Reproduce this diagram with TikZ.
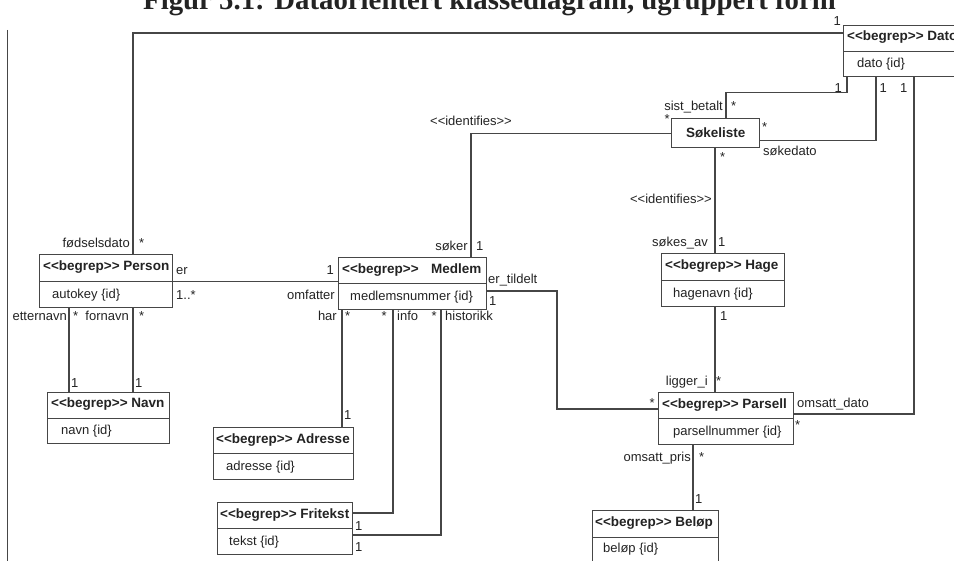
\documentclass[tikz,border=0pt]{standalone}
\usepackage{fontspec}
\usepackage{tikz}
\usetikzlibrary{calc}
\newfontfamily\umlfont{Liberation Sans}
\newfontfamily\titlefont{Liberation Serif}
\definecolor{linegray}{RGB}{70, 70, 70}
\definecolor{txtgray}{RGB}{35, 35, 35}
\newcommand{\stereo}{<{}<begrep>{}>}
\tikzset{
    classbox/.style={draw=linegray, line width=1.3pt, fill=white, anchor=north west, inner sep=0pt, minimum height=52pt},
    headtxt/.style={anchor=west, inner sep=0pt, text=txtgray, font=\umlfont\bfseries\fontsize{13.5}{16}\selectfont},
    attrtxt/.style={anchor=west, inner sep=0pt, text=txtgray, font=\umlfont\fontsize{13}{15}\selectfont},
    lbl/.style={inner sep=0pt, text=txtgray, font=\umlfont\fontsize{13}{15}\selectfont},
    assoc/.style={draw=linegray, line width=1.2pt}
}

\begin{document}
\begin{tikzpicture}[x=1pt, y=-1pt]
                \useasboundingbox (0,0) rectangle (954,561);

                % --- Tittel (cut by the top edge) ---
                \node[anchor=base, inner sep=0pt, text=txtgray, font=\titlefont\bfseries\fontsize{28.8}{30}\selectfont] (title) at (489.5,9.5) {Figur 5.1: Dataorientert klassediagram, ugruppert form};
                \draw[linegray, line width=1pt] (7,30) -- (7,561); % page margin line

                % --- Klasser ---
                \node[classbox, minimum width=133pt, minimum height=53pt] (person) at (39,254) {};
                \draw[assoc] (person.west) -- (person.east);
                \node[headtxt] (personh) at ($(person.north west)+(4,13.5)$) {\stereo\ Person};
                \node[attrtxt] (persona) at ($(person.west)+(13,13.5)$) {autokey \{id\}};

                \node[classbox, minimum width=122pt, minimum height=51pt] (navn) at (47,392) {};
                \draw[assoc] (navn.west) -- (navn.east);
                \node[headtxt] (navnh) at ($(navn.north west)+(4,12.5)$) {\stereo\ Navn};
                \node[attrtxt] (navna) at ($(navn.west)+(14,12.5)$) {navn \{id\}};

                \node[classbox, minimum width=148pt] (medlem) at (338,257) {};
                \draw[assoc] (medlem.west) -- (medlem.east);
                \node[headtxt] (medlemh) at ($(medlem.north west)+(4,13)$) {\stereo\hspace{12.5pt}Medlem};
                \node[attrtxt] (medlema) at ($(medlem.west)+(12,13)$) {medlemsnummer \{id\}};

                \node[classbox, minimum width=140pt] (adresse) at (213,427) {};
                \draw[assoc] (adresse.west) -- (adresse.east);
                \node[headtxt] (adresseh) at ($(adresse.north west)+(3,13)$) {\stereo\ Adresse};
                \node[attrtxt] (adressea) at ($(adresse.west)+(13,13)$) {adresse \{id\}};

                \node[classbox, minimum width=135pt] (fritekst) at (217,502) {};
                \draw[assoc] (fritekst.west) -- (fritekst.east);
                \node[headtxt] (friteksth) at ($(fritekst.north west)+(3,13)$) {\stereo\ Fritekst};
                \node[attrtxt] (friteksta) at ($(fritekst.west)+(12,13)$) {tekst \{id\}};

                \node[classbox, minimum width=88pt, minimum height=29pt, font=\umlfont\bfseries\fontsize{13.5}{16}\selectfont, text=txtgray] (sokeliste) at (671,118) {Søkeliste};

                \node[classbox, minimum width=123pt, minimum height=53pt] (hage) at (661,253) {};
                \draw[assoc] (hage.west) -- (hage.east);
                \node[headtxt] (hageh) at ($(hage.north west)+(4,13.5)$) {\stereo\ Hage};
                \node[attrtxt] (hagea) at ($(hage.west)+(12,13.5)$) {hagenavn \{id\}};

                \node[classbox, minimum width=135pt] (parsell) at (658,392) {};
                \draw[assoc] (parsell.west) -- (parsell.east);
                \node[headtxt] (parsellh) at ($(parsell.north west)+(4,13)$) {\stereo\ Parsell};
                \node[attrtxt] (parsella) at ($(parsell.west)+(15,13)$) {parsellnummer \{id\}};

                \node[classbox, minimum width=126pt, minimum height=54pt] (belop) at (592,510) {};
                \draw[assoc] (belop.west) -- (belop.east);
                \node[headtxt] (beloph) at ($(belop.north west)+(3,13.5)$) {\stereo\ Beløp};
                \node[attrtxt] (belopa) at ($(belop.west)+(11,11)$) {beløp \{id\}};

                \node[classbox, minimum width=130pt, minimum height=51pt] (dato) at (843,25) {};
                \draw[assoc] (dato.west) -- (dato.east);
                \node[headtxt] (datoh) at ($(dato.north west)+(4,12.5)$) {\stereo\ Dato};
                \node[attrtxt] (datoa) at ($(dato.west)+(14,12.5)$) {dato \{id\}};

                % --- Assosiasjoner ---
                \draw[assoc] ($(person.north west)+(94,0)$) |- ($(dato.north west)+(0,8)$);
                \draw[assoc] ($(person.south west)+(30,0)$) -- ($(navn.north west)+(22,0)$);
                \draw[assoc] ($(person.south west)+(94,0)$) -- ($(navn.north west)+(86,0)$);
                \draw[assoc] (person.east) -- (person.east -| medlem.west);
                \draw[assoc] ($(medlem.north west)+(133,0)$) |- (sokeliste.west);
                \draw[assoc] ($(sokeliste.north west)+(55,0)$) |- ($(dato.south west)+(4,15)$) -- ($(dato.south west)+(4,0)$);
                \draw[assoc] ($(sokeliste.south east)+(0,-8)$) -| ($(dato.south west)+(33,0)$);
                \draw[assoc] ($(sokeliste.south west)+(44,0)$) -- ($(hage.north west)+(54,0)$);
                \draw[assoc] ($(hage.south west)+(54,0)$) -- ($(parsell.north west)+(57,0)$);
                \draw[assoc] ($(dato.south west)+(71,0)$) |- ($(parsell.north east)+(0,22)$);
                \draw[assoc] ($(medlem.north east)+(0,34)$) -| ($(parsell.north west)+(-101,17)$) -- ($(parsell.north west)+(0,17)$);
                \draw[assoc] ($(parsell.south west)+(35,0)$) -- ($(belop.north west)+(101,0)$);
                \draw[assoc] ($(medlem.south west)+(4,0)$) -- ($(adresse.north west)+(129,0)$);
                \draw[assoc] ($(medlem.south west)+(55,0)$) |- ($(fritekst.north east)+(0,11)$);
                \draw[assoc] ($(medlem.south west)+(103,0)$) |- ($(fritekst.north east)+(0,33)$);

                % --- Roller og multiplisitet ---
                \node[lbl, anchor=base east] (rfodsel) at (130,248) {fødselsdato};
                \node[lbl, anchor=base west] (mfodsel) at (139,248) {*};
                \node[lbl, anchor=base east] (mdatoperson) at (841,25.5) {1};
                \node[lbl, anchor=base east] (retter) at (67,321) {etternavn};
                \node[lbl, anchor=base west] (metter) at (73,321) {*};
                \node[lbl, anchor=base east] (rfor) at (129,321) {fornavn};
                \node[lbl, anchor=base west] (mfor) at (139,321) {*};
                \node[lbl, anchor=base west] (mnavn1) at (71,388) {1};
                \node[lbl, anchor=base west] (mnavn2) at (135,388) {1};
                \node[lbl, anchor=base west] (rer) at (176,275) {er};
                \node[lbl, anchor=base west] (mer) at (176,300) {1..*};
                \node[lbl, anchor=base east] (momfatter) at (334,275) {1};
                \node[lbl, anchor=base east] (romfatter) at (335,300) {omfatter};

                \node[lbl, anchor=base] (sidentifies) at (471,126) {<{}<identifies>{}>};
                \node[lbl, anchor=base east] (rsoker) at (468,251) {søker};
                \node[lbl, anchor=base west] (msoker) at (476,251) {1};
                \node[lbl, anchor=base east] (msokeliste) at (670,124) {*};
                \node[lbl, anchor=base east] (rsist) at (723,111) {sist\_betalt};
                \node[lbl, anchor=base west] (msist) at (731,111) {*};
                \node[lbl, anchor=base east] (mdatosist) at (842,92.5) {1};
                \node[lbl, anchor=base west] (mdatosok) at (879.5,93) {1};
                \node[lbl, anchor=base east] (mdatoomsatt) at (907.5,93) {1};
                \node[lbl, anchor=base west] (msokedato) at (762,132) {*};
                \node[lbl, anchor=base west] (rsokedato) at (763,156) {søkedato};
                \node[lbl, anchor=base west] (msokes) at (720,162) {*};
                \node[lbl, anchor=base east] (sidentifies2) at (712,204) {<{}<identifies>{}>};
                \node[lbl, anchor=base east] (rsokes) at (708,247) {søkes\_av};
                \node[lbl, anchor=base west] (mhage) at (718,247) {1};
                \node[lbl, anchor=base west] (mhage2) at (720,321) {1};
                \node[lbl, anchor=base east] (rligger) at (708,386) {ligger\_i};
                \node[lbl, anchor=base west] (mligger) at (716,386) {*};
                \node[lbl, anchor=base east] (mtildelt) at (655,408) {*};
                \node[lbl, anchor=base west] (romsattdato) at (797,408) {omsatt\_dato};
                \node[lbl, anchor=base west] (momsattdato) at (795,430) {*};
                \node[lbl, anchor=base east] (romsattpris) at (691,461) {omsatt\_pris};
                \node[lbl, anchor=base west] (momsattpris) at (699,461) {*};
                \node[lbl, anchor=base west] (mbelop) at (695,503) {1};

                \node[lbl, anchor=base west] (rtildelt) at (488,284) {er\_tildelt};
                \node[lbl, anchor=base west] (mtildelt1) at (489,306) {1};
                \node[lbl, anchor=base east] (rhar) at (337,321) {har};
                \node[lbl, anchor=base west] (mhar) at (345,321) {*};
                \node[lbl, anchor=base east] (minfo) at (387,321) {*};
                \node[lbl, anchor=base west] (rinfo) at (397,321) {info};
                \node[lbl, anchor=base east] (mhist) at (437,321) {*};
                \node[lbl, anchor=base west] (rhist) at (445,321) {historikk};
                \node[lbl, anchor=base west] (madresse) at (344,420) {1};
                \node[lbl, anchor=base west] (mfritekst1) at (355,530) {1};
                \node[lbl, anchor=base west] (mfritekst2) at (355,551) {1};
\end{tikzpicture}
\end{document}
